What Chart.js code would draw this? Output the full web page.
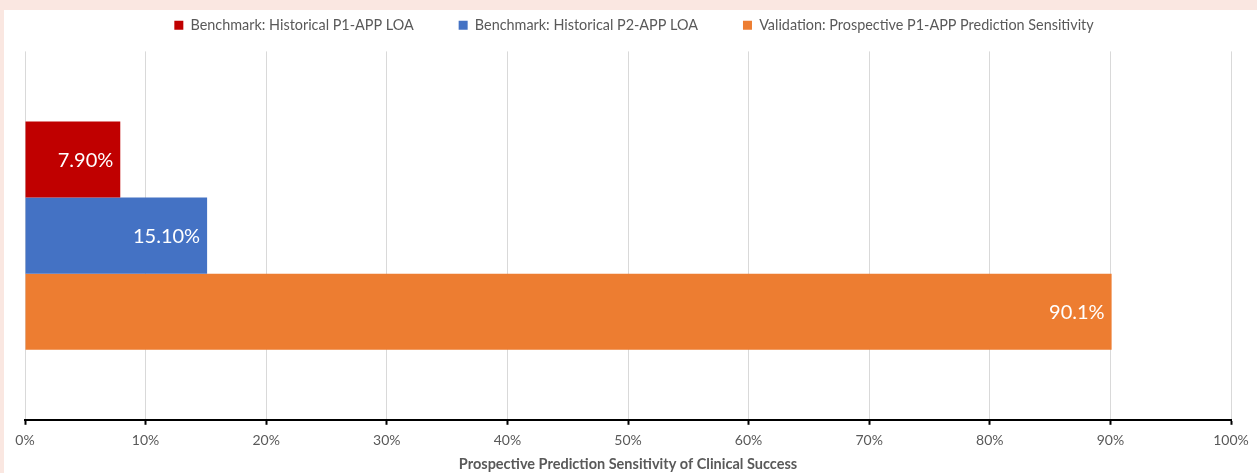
<!DOCTYPE html>
<html>
<head>
<meta charset="utf-8">
<script src="https://cdn.jsdelivr.net/npm/chart.js@4.4.1/dist/chart.umd.min.js"></script>
<style>
  html, body { margin: 0; padding: 0; background: #fae7e1; }
  #panel { position: absolute; left: 4px; top: 10px; width: 1253px; height: 463px; background: #ffffff; }
  canvas { display: block; }
</style>
</head>
<body>
<div id="panel"><canvas id="chart"></canvas></div>
<script>
// Single category, three series compared along a percentage axis
const categories = [''];
const seriesNames = [
  'Benchmark: Historical P1-APP LOA',
  'Benchmark: Historical P2-APP LOA',
  'Validation: Prospective P1-APP Prediction Sensitivity'
];
const p1Historical = [7.9];
const p2Historical = [15.1];
const p1Prediction = [90.1];
const valueLabels = ['7.90%', '15.10%', '90.1%'];
const tickLabels = ['0%', '10%', '20%', '30%', '40%', '50%', '60%', '70%', '80%', '90%', '100%'];
const seriesColors = ['#c00000', '#4472c4', '#ed7d31'];

const FONT = 'Lato, "Open Sans", sans-serif';

// Writes each bar's value label inside the bar, right-aligned at its end
const barValueLabels = {
  id: 'barValueLabels',
  afterDatasetsDraw(chart) {
    const ctx = chart.ctx;
    ctx.save();
    ctx.font = '20px ' + FONT;
    ctx.fillStyle = '#ffffff';
    ctx.textAlign = 'right';
    ctx.textBaseline = 'middle';
    chart.data.datasets.forEach((ds, i) => {
      const meta = chart.getDatasetMeta(i);
      meta.data.forEach(bar => {
        ctx.fillText(valueLabels[i], bar.x - 7, bar.y + 1);
      });
    });
    ctx.restore();
  }
};

// Leaves extra room under the legend row and nudges the row slightly right
const legendTweak = {
  id: 'legendTweak',
  beforeLayout(chart) {
    const legend = chart.legend;
    if (legend && !legend._tweaked) {
      const fit = legend.fit;
      legend.fit = function () {
        fit.call(this);
        this.height += 9;
      };
      const draw = legend.draw;
      legend.draw = function () {
        const ctx = this.ctx;
        ctx.save();
        ctx.translate(6, 0);
        draw.call(this);
        ctx.restore();
      };
      legend._tweaked = true;
    }
  }
};

new Chart(document.getElementById('chart'), {
  type: 'bar',
  data: {
    labels: categories,
    datasets: [
      { label: seriesNames[0], data: p1Historical, backgroundColor: seriesColors[0] },
      { label: seriesNames[1], data: p2Historical, backgroundColor: seriesColors[1] },
      { label: seriesNames[2], data: p1Prediction, backgroundColor: seriesColors[2] }
    ]
  },
  options: {
    indexAxis: 'y',
    responsive: true,
    maintainAspectRatio: false,
    animation: false,
    layout: { padding: { left: 21, right: 26, top: -37, bottom: 0 } },
    datasets: { bar: { categoryPercentage: 0.62, barPercentage: 1.0, borderWidth: 0 } },
    plugins: {
      legend: {
        position: 'top',
        labels: {
          boxWidth: 9, boxHeight: 9, padding: 45,
          color: '#595959', font: { family: FONT, size: 14.4 }
        }
      },
      tooltip: { enabled: false }
    },
    scales: {
      x: {
        min: 0, max: 100,
        ticks: {
          stepSize: 10, color: '#595959', padding: 7,
          font: { family: FONT, size: 14 },
          callback: (v, i) => tickLabels[i]
        },
        grid: { color: '#d9d9d9', lineWidth: 1, tickColor: '#000000', tickLength: 5, tickWidth: 2 },
        border: { display: true, color: '#000000', width: 2 },
        title: {
          display: true,
          text: 'Prospective Prediction Sensitivity of Clinical Success',
          color: '#595959',
          font: { family: FONT, size: 14.5, weight: 'bold' },
          padding: { top: 0, bottom: 0 }
        }
      },
      y: { display: false }
    }
  },
  plugins: [barValueLabels, legendTweak]
});
</script>
</body>
</html>
